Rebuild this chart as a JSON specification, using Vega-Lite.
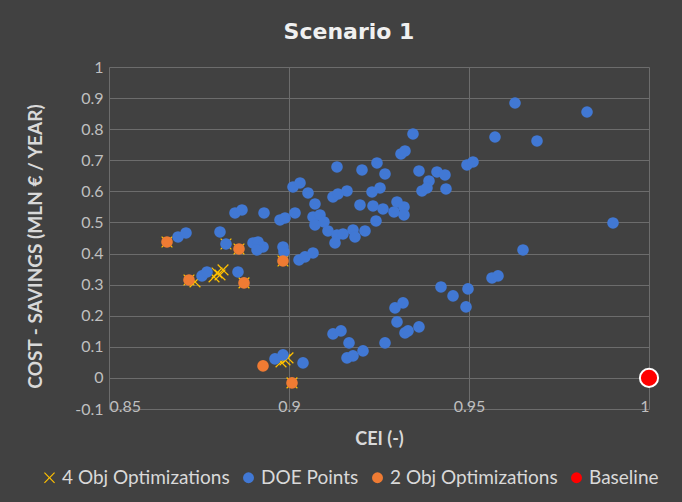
{
  "$schema": "https://vega.github.io/schema/vega-lite/v6.json",
  "width": 540,
  "height": 342,
  "autosize": {"type": "none"},
  "padding": {"left": 109, "top": 67, "right": 33, "bottom": 93},
  "background": "#414141",
  "title": {"text": "Scenario 1", "color": "#f0f0f0", "fontSize": 22, "font": "DejaVu Sans", "fontWeight": "bold", "anchor": "middle", "frame": "group", "dx": -30, "offset": 15},
  "data": {"values": [
    {"series": "4 Obj Optimizations", "cei": 0.86611, "savings": 0.4373},
    {"series": "4 Obj Optimizations", "cei": 0.88611, "savings": 0.4148},
    {"series": "4 Obj Optimizations", "cei": 0.89833, "savings": 0.3762},
    {"series": "4 Obj Optimizations", "cei": 0.87222, "savings": 0.3151},
    {"series": "4 Obj Optimizations", "cei": 0.8875, "savings": 0.3055},
    {"series": "4 Obj Optimizations", "cei": 0.90083, "savings": -0.0161},
    {"series": "4 Obj Optimizations", "cei": 0.87389, "savings": 0.3087},
    {"series": "4 Obj Optimizations", "cei": 0.8825, "savings": 0.4309},
    {"series": "4 Obj Optimizations", "cei": 0.87917, "savings": 0.3248},
    {"series": "4 Obj Optimizations", "cei": 0.88, "savings": 0.3376},
    {"series": "4 Obj Optimizations", "cei": 0.88083, "savings": 0.3312},
    {"series": "4 Obj Optimizations", "cei": 0.88167, "savings": 0.3473},
    {"series": "4 Obj Optimizations", "cei": 0.89778, "savings": 0.0514},
    {"series": "4 Obj Optimizations", "cei": 0.89889, "savings": 0.0579},
    {"series": "4 Obj Optimizations", "cei": 0.89972, "savings": 0.0643},
    {"series": "DOE Points", "cei": 0.86917, "savings": 0.4534},
    {"series": "DOE Points", "cei": 0.87139, "savings": 0.4662},
    {"series": "DOE Points", "cei": 0.88083, "savings": 0.4695},
    {"series": "DOE Points", "cei": 0.8825, "savings": 0.4309},
    {"series": "DOE Points", "cei": 0.89, "savings": 0.4341},
    {"series": "DOE Points", "cei": 0.89139, "savings": 0.4373},
    {"series": "DOE Points", "cei": 0.89278, "savings": 0.4212},
    {"series": "DOE Points", "cei": 0.89111, "savings": 0.4116},
    {"series": "DOE Points", "cei": 0.89833, "savings": 0.4212},
    {"series": "DOE Points", "cei": 0.89861, "savings": 0.4051},
    {"series": "DOE Points", "cei": 0.90278, "savings": 0.3794},
    {"series": "DOE Points", "cei": 0.90444, "savings": 0.3891},
    {"series": "DOE Points", "cei": 0.90667, "savings": 0.4019},
    {"series": "DOE Points", "cei": 0.87583, "savings": 0.328},
    {"series": "DOE Points", "cei": 0.87722, "savings": 0.3408},
    {"series": "DOE Points", "cei": 0.88583, "savings": 0.3408},
    {"series": "DOE Points", "cei": 0.885, "savings": 0.5305},
    {"series": "DOE Points", "cei": 0.88694, "savings": 0.5402},
    {"series": "DOE Points", "cei": 0.89306, "savings": 0.5305},
    {"series": "DOE Points", "cei": 0.8975, "savings": 0.508},
    {"series": "DOE Points", "cei": 0.89889, "savings": 0.5145},
    {"series": "DOE Points", "cei": 0.90167, "savings": 0.5305},
    {"series": "DOE Points", "cei": 0.90722, "savings": 0.5595},
    {"series": "DOE Points", "cei": 0.90667, "savings": 0.5177},
    {"series": "DOE Points", "cei": 0.90861, "savings": 0.5241},
    {"series": "DOE Points", "cei": 0.90972, "savings": 0.5016},
    {"series": "DOE Points", "cei": 0.90722, "savings": 0.492},
    {"series": "DOE Points", "cei": 0.91333, "savings": 0.6785},
    {"series": "DOE Points", "cei": 0.92028, "savings": 0.6688},
    {"series": "DOE Points", "cei": 0.92444, "savings": 0.6913},
    {"series": "DOE Points", "cei": 0.92667, "savings": 0.6559},
    {"series": "DOE Points", "cei": 0.93111, "savings": 0.7203},
    {"series": "DOE Points", "cei": 0.93222, "savings": 0.7299},
    {"series": "DOE Points", "cei": 0.90111, "savings": 0.6141},
    {"series": "DOE Points", "cei": 0.90306, "savings": 0.627},
    {"series": "DOE Points", "cei": 0.90528, "savings": 0.5949},
    {"series": "DOE Points", "cei": 0.91222, "savings": 0.582},
    {"series": "DOE Points", "cei": 0.91361, "savings": 0.5916},
    {"series": "DOE Points", "cei": 0.91611, "savings": 0.6013},
    {"series": "DOE Points", "cei": 0.92306, "savings": 0.5981},
    {"series": "DOE Points", "cei": 0.92528, "savings": 0.6109},
    {"series": "DOE Points", "cei": 0.91972, "savings": 0.5563},
    {"series": "DOE Points", "cei": 0.92333, "savings": 0.5531},
    {"series": "DOE Points", "cei": 0.92611, "savings": 0.5434},
    {"series": "DOE Points", "cei": 0.92917, "savings": 0.5338},
    {"series": "DOE Points", "cei": 0.93, "savings": 0.5659},
    {"series": "DOE Points", "cei": 0.93194, "savings": 0.5498},
    {"series": "DOE Points", "cei": 0.93194, "savings": 0.5241},
    {"series": "DOE Points", "cei": 0.92417, "savings": 0.5048},
    {"series": "DOE Points", "cei": 0.91083, "savings": 0.4727},
    {"series": "DOE Points", "cei": 0.91333, "savings": 0.4598},
    {"series": "DOE Points", "cei": 0.915, "savings": 0.463},
    {"series": "DOE Points", "cei": 0.91778, "savings": 0.4759},
    {"series": "DOE Points", "cei": 0.91833, "savings": 0.4534},
    {"series": "DOE Points", "cei": 0.92111, "savings": 0.4727},
    {"series": "DOE Points", "cei": 0.91278, "savings": 0.4341},
    {"series": "DOE Points", "cei": 0.93444, "savings": 0.7846},
    {"series": "DOE Points", "cei": 0.93611, "savings": 0.6656},
    {"series": "DOE Points", "cei": 0.94111, "savings": 0.6624},
    {"series": "DOE Points", "cei": 0.94333, "savings": 0.6527},
    {"series": "DOE Points", "cei": 0.93889, "savings": 0.6334},
    {"series": "DOE Points", "cei": 0.93694, "savings": 0.6013},
    {"series": "DOE Points", "cei": 0.93833, "savings": 0.6109},
    {"series": "DOE Points", "cei": 0.94361, "savings": 0.6077},
    {"series": "DOE Points", "cei": 0.94944, "savings": 0.6849},
    {"series": "DOE Points", "cei": 0.95111, "savings": 0.6945},
    {"series": "DOE Points", "cei": 0.95722, "savings": 0.7749},
    {"series": "DOE Points", "cei": 0.96278, "savings": 0.8842},
    {"series": "DOE Points", "cei": 0.98278, "savings": 0.8553},
    {"series": "DOE Points", "cei": 0.96889, "savings": 0.7621},
    {"series": "DOE Points", "cei": 0.99, "savings": 0.4984},
    {"series": "DOE Points", "cei": 0.965, "savings": 0.4116},
    {"series": "DOE Points", "cei": 0.94222, "savings": 0.2926},
    {"series": "DOE Points", "cei": 0.94556, "savings": 0.2637},
    {"series": "DOE Points", "cei": 0.94972, "savings": 0.2862},
    {"series": "DOE Points", "cei": 0.94917, "savings": 0.2283},
    {"series": "DOE Points", "cei": 0.95639, "savings": 0.3215},
    {"series": "DOE Points", "cei": 0.95806, "savings": 0.328},
    {"series": "DOE Points", "cei": 0.92944, "savings": 0.2251},
    {"series": "DOE Points", "cei": 0.93167, "savings": 0.2412},
    {"series": "DOE Points", "cei": 0.93, "savings": 0.1801},
    {"series": "DOE Points", "cei": 0.93222, "savings": 0.1447},
    {"series": "DOE Points", "cei": 0.93306, "savings": 0.1511},
    {"series": "DOE Points", "cei": 0.93611, "savings": 0.164},
    {"series": "DOE Points", "cei": 0.92667, "savings": 0.1125},
    {"series": "DOE Points", "cei": 0.91222, "savings": 0.1415},
    {"series": "DOE Points", "cei": 0.91444, "savings": 0.1511},
    {"series": "DOE Points", "cei": 0.91667, "savings": 0.1125},
    {"series": "DOE Points", "cei": 0.91611, "savings": 0.0643},
    {"series": "DOE Points", "cei": 0.91778, "savings": 0.0707},
    {"series": "DOE Points", "cei": 0.92056, "savings": 0.0868},
    {"series": "DOE Points", "cei": 0.89611, "savings": 0.0611},
    {"series": "DOE Points", "cei": 0.89833, "savings": 0.074},
    {"series": "DOE Points", "cei": 0.90389, "savings": 0.0482},
    {"series": "2 Obj Optimizations", "cei": 0.86611, "savings": 0.4373},
    {"series": "2 Obj Optimizations", "cei": 0.88611, "savings": 0.4148},
    {"series": "2 Obj Optimizations", "cei": 0.89833, "savings": 0.3762},
    {"series": "2 Obj Optimizations", "cei": 0.87222, "savings": 0.3151},
    {"series": "2 Obj Optimizations", "cei": 0.8875, "savings": 0.3055},
    {"series": "2 Obj Optimizations", "cei": 0.89278, "savings": 0.0386},
    {"series": "2 Obj Optimizations", "cei": 0.90083, "savings": -0.0161},
    {"series": "Baseline", "cei": 1.0, "savings": 0.0}
  ]},
  "encoding": {
    "x": {"field": "cei", "type": "quantitative", "title": "CEI (-)",
      "scale": {"domain": [0.85, 1], "nice": false, "zero": false},
      "axis": {"values": [0.85, 0.9, 0.95, 1], "format": ".2~f", "labelBaseline": "middle", "labelPadding": -3, "titlePadding": 16, "titleFontSize": 18}},
    "y": {"field": "savings", "type": "quantitative", "title": "COST - SAVINGS (MLN € / YEAR)",
      "scale": {"domain": [-0.1, 1], "nice": false, "zero": false},
      "axis": {"values": [-0.1, 0, 0.1, 0.2, 0.3, 0.4, 0.5, 0.6, 0.7, 0.8, 0.9, 1], "labelExpr": "datum.value < 0 ? '-' + format(-datum.value, '.1~f') : format(datum.value, '.1~f')", "labelOverlap": false, "labelPadding": 6, "titlePadding": 29, "titleFontSize": 19, "titleY": 179}}
  },
  "layer": [
    {
      "mark": {"type": "point", "filled": true, "opacity": 1, "size": 135},
      "encoding": {
        "fill": {"field": "series", "type": "nominal",
          "scale": {"domain": ["4 Obj Optimizations", "DOE Points", "2 Obj Optimizations", "Baseline"], "range": ["#FFC000", "#4178D4", "#EF7B33", "#FF0000"]},
          "legend": {"orient": "none", "legendX": -69, "legendY": 401, "direction": "horizontal", "title": null, "labelColor": "#d9d9d9", "labelFontSize": 19, "labelFont": "Lato", "labelLimit": 400, "symbolSize": 120, "columnPadding": 9, "labelOffset": 3}},
        "shape": {"field": "series", "type": "nominal",
          "scale": {"domain": ["4 Obj Optimizations", "DOE Points", "2 Obj Optimizations", "Baseline"], "range": ["M-1,-0.85L-0.85,-1L0,-0.15L0.85,-1L1,-0.85L0.15,0L1,0.85L0.85,1L0,0.15L-0.85,1L-1,0.85L-0.15,0Z", "circle", "circle", "circle"]}}
      }
    },
    {
      "transform": [{"filter": "datum.series === 'Baseline'"}],
      "mark": {"type": "point", "shape": "circle", "filled": true, "opacity": 1, "size": 330, "fill": "#FF0000", "stroke": "#ffffff", "strokeWidth": 2}
    }
  ],
  "config": {
    "view": {"stroke": null},
    "font": "Lato",
    "axis": {"domain": false, "ticks": false, "grid": true, "gridColor": "#6c6c6c", "gridWidth": 1, "labelColor": "#bfbfbf", "labelFontSize": 16, "labelFont": "Lato", "labelOverlap": false, "titleColor": "#d9d9d9", "titleFont": "Lato", "titleFontWeight": "bold"}
  }
}
